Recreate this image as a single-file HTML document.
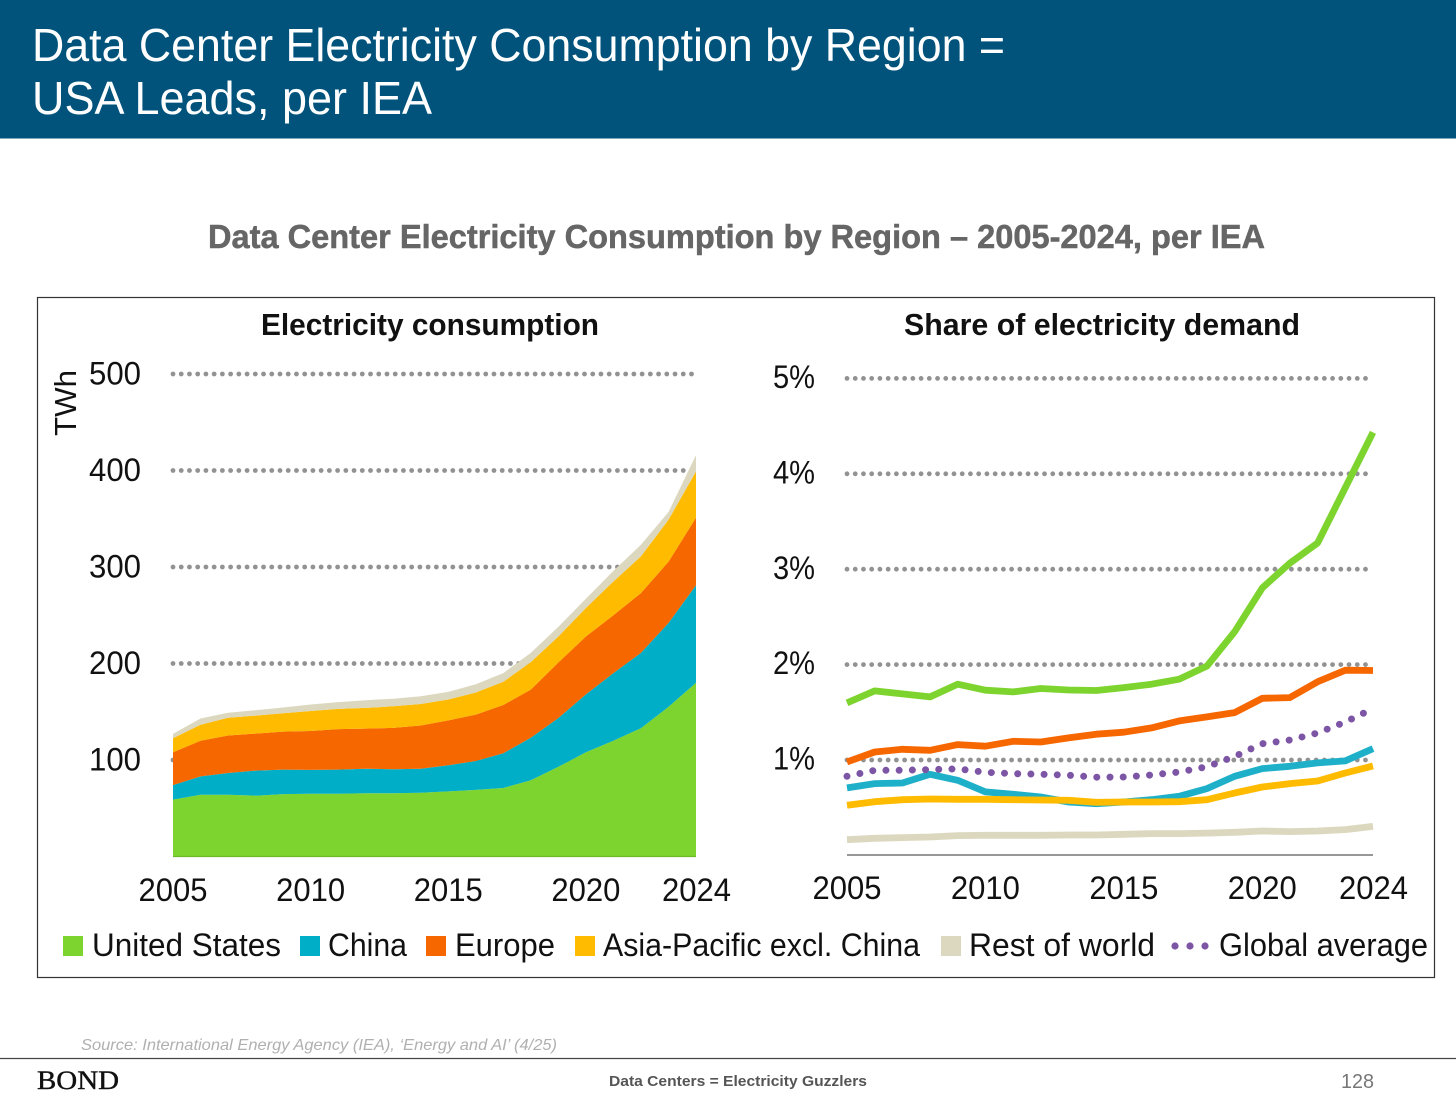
<!DOCTYPE html>
<html lang="en">
<head>
<meta charset="utf-8">
<title>Data Center Electricity Consumption by Region</title>
<style>
html,body{margin:0;padding:0;background:#fff;width:1456px;height:1100px;overflow:hidden}
svg{display:block}
text{font-family:"Liberation Sans",sans-serif}
.lab{fill:#111;font-size:32px}
</style>
</head>
<body>
<svg id="slide" xmlns="http://www.w3.org/2000/svg" width="1456" height="1100" viewBox="0 0 1456 1100">
  <rect x="0" y="0" width="1456" height="1100" fill="#fff"/>
  <rect x="0" y="0" width="1456" height="138.5" fill="#01537c"/>
  <text x="32" y="61" font-size="46" fill="#fff" textLength="973" lengthAdjust="spacingAndGlyphs">Data Center Electricity Consumption by Region =</text>
  <text x="32" y="114" font-size="46" fill="#fff" textLength="400" lengthAdjust="spacingAndGlyphs">USA Leads, per IEA</text>
  <text x="208" y="248" font-size="33" font-weight="700" fill="#666" stroke="#666" stroke-width="0.5" textLength="1057" lengthAdjust="spacingAndGlyphs">Data Center Electricity Consumption by Region – 2005-2024, per IEA</text>
  <rect x="37.5" y="297.5" width="1397" height="680" fill="#fff" stroke="#333" stroke-width="1.2"/>

  <text x="261" y="335" font-size="31" font-weight="700" fill="#111" textLength="338" lengthAdjust="spacingAndGlyphs">Electricity consumption</text>
  <text x="904" y="335" font-size="31" font-weight="700" fill="#111" textLength="396" lengthAdjust="spacingAndGlyphs">Share of electricity demand</text>
  <text transform="translate(76 436) rotate(-90)" font-size="31" fill="#111" textLength="66" lengthAdjust="spacingAndGlyphs">TWh</text>

  <g id="left-chart"></g>
  <g id="right-chart"></g>

  <g id="legend">
    <rect x="63" y="936" width="20" height="20" fill="#7ed42f"/>
    <text class="lab" x="92" y="956" textLength="189" lengthAdjust="spacingAndGlyphs">United States</text>
    <rect x="300" y="936" width="20" height="20" fill="#00aec7"/>
    <text class="lab" x="328" y="956" textLength="79" lengthAdjust="spacingAndGlyphs">China</text>
    <rect x="426" y="936" width="20" height="20" fill="#f76700"/>
    <text class="lab" x="455" y="956" textLength="100" lengthAdjust="spacingAndGlyphs">Europe</text>
    <rect x="575" y="936" width="20" height="20" fill="#ffbb00"/>
    <text class="lab" x="603" y="956" textLength="317" lengthAdjust="spacingAndGlyphs">Asia-Pacific excl. China</text>
    <rect x="941" y="936" width="20" height="20" fill="#dcd8bf"/>
    <text class="lab" x="969" y="956" textLength="186" lengthAdjust="spacingAndGlyphs">Rest of world</text>
    <circle cx="1175" cy="946" r="3.6" fill="#7d55a5"/>
    <circle cx="1190" cy="946" r="3.6" fill="#7d55a5"/>
    <circle cx="1205" cy="946" r="3.6" fill="#7d55a5"/>
    <text class="lab" x="1219" y="956" textLength="209" lengthAdjust="spacingAndGlyphs">Global average</text>
  </g>

  <text x="81" y="1050" font-size="16" font-style="italic" fill="#b0b0b0" textLength="476" lengthAdjust="spacingAndGlyphs">Source: International Energy Agency (IEA), ‘Energy and AI’ (4/25)</text>
  <line x1="0" y1="1058.5" x2="1456" y2="1058.5" stroke="#444" stroke-width="1.2"/>
  <text x="37" y="1089" font-size="26" fill="#111" stroke="#111" stroke-width="0.4" style="font-family:'Liberation Serif',serif" textLength="82" lengthAdjust="spacingAndGlyphs">BOND</text>
  <text x="609" y="1086" font-size="14.5" font-weight="700" fill="#555" textLength="258" lengthAdjust="spacingAndGlyphs">Data Centers = Electricity Guzzlers</text>
  <text x="1341" y="1088" font-size="20" fill="#777" textLength="33" lengthAdjust="spacingAndGlyphs">128</text>
</svg>
<script>
// Shared categories
const years = [2005,2006,2007,2008,2009,2010,2011,2012,2013,2014,2015,2016,2017,2018,2019,2020,2021,2022,2023,2024];
const xTickYears = [2005,2010,2015,2020,2024];

// Left chart: TWh by region (stacked)
const twhTicks = [100,200,300,400,500];
const twhUnitedStates = [59,64,64,63,64.7,65,65,65.5,65.5,66,67.5,69,71,79,93,108,120,133,155,180];
const twhChina = [15,19,22.5,26,25.3,24.7,25,25.5,25,25,27,30,36,44,50.5,60,70,78,87,101];
const twhEurope = [34,37,38.9,38.4,39.4,40.3,42,41.5,42.8,44.7,46.5,48,50,50,57.5,60,60,62,63.5,70];
const twhAsiaPacific = [14.6,16.5,18.3,18.6,19,20.8,21,21.5,22.3,22.3,21.7,23,24,28.5,27,29.5,35,38,43.5,48];
const twhRestOfWorld = [4.4,6.5,5.3,5.6,6,6.7,7,8,7.9,8,7.9,8.6,9,9.5,10,9.5,11,12,8,17];

// Right chart: share of electricity demand (%)
const shareTicks = [1,2,3,4,5];
const shareUnitedStates = [1.594,1.72,1.689,1.657,1.79,1.727,1.71,1.745,1.73,1.724,1.755,1.79,1.843,1.98,2.34,2.8,3.06,3.27,3.85,4.43];
const shareChina = [0.703,0.748,0.755,0.846,0.783,0.661,0.636,0.608,0.556,0.538,0.556,0.58,0.615,0.696,0.825,0.906,0.93,0.965,0.986,1.115];
const shareEurope = [0.976,1.08,1.108,1.098,1.157,1.14,1.192,1.185,1.227,1.266,1.287,1.332,1.406,1.448,1.493,1.643,1.65,1.815,1.937,1.934];
const shareAsiaPacific = [0.521,0.559,0.58,0.587,0.584,0.584,0.58,0.577,0.573,0.552,0.556,0.556,0.559,0.58,0.65,0.713,0.748,0.776,0.86,0.934];
const shareRestOfWorld = [0.16,0.175,0.182,0.189,0.203,0.206,0.206,0.206,0.21,0.21,0.217,0.224,0.224,0.23,0.238,0.252,0.245,0.252,0.266,0.3];
const shareGlobalAverage = [0.825,0.888,0.888,0.895,0.902,0.867,0.853,0.846,0.836,0.815,0.818,0.839,0.87,0.925,1.032,1.167,1.205,1.279,1.394,1.535];

const NS = 'http://www.w3.org/2000/svg';
function mk(parent, tag, attrs, txt) {
  const el = document.createElementNS(NS, tag);
  for (const k in attrs) el.setAttribute(k, attrs[k]);
  if (txt !== undefined) el.textContent = txt;
  parent.appendChild(el);
  return el;
}

// Axis functions
const lx = y => 173 + (y - 2005) * (696 - 173) / 19;
const ly = v => 856.5 - v * 0.965;
const rx = y => 847 + (y - 2005) * (1373 - 847) / 19;
const ry = v => 855 - v * 95.4;

// ---------- Left chart ----------
const left = document.getElementById('left-chart');
twhTicks.forEach(t => {
  const g = mk(left, 'line', {x1: 173, x2: 695, y1: ly(t), y2: ly(t), stroke: '#929292', 'stroke-width': 4.8, 'stroke-linecap': 'round', 'stroke-dasharray': '0 8.23'});
  
  
  const lab = mk(left, 'text', {class: 'lab', x: 89, y: ly(t) + 10.5, textLength: 52, lengthAdjust: 'spacingAndGlyphs'}, String(t));
  
  
});

const stackSeries = [
  {key: 'united-states', vals: twhUnitedStates, color: '#7ed42f'},
  {key: 'china', vals: twhChina, color: '#00aec7'},
  {key: 'europe', vals: twhEurope, color: '#f76700'},
  {key: 'asia-pacific', vals: twhAsiaPacific, color: '#ffbb00'},
  {key: 'rest-of-world', vals: twhRestOfWorld, color: '#dcd8bf'}
];
let base = years.map(() => 0);
stackSeries.forEach(s => {
  const top = base.map((b, i) => b + s.vals[i]);
  const upper = years.map((y, i) => lx(y).toFixed(1) + ',' + ly(top[i]).toFixed(1));
  const lower = years.map((y, i) => lx(y).toFixed(1) + ',' + ly(base[i]).toFixed(1)).reverse();
  const p = mk(left, 'polygon', {points: upper.concat(lower).join(' '), fill: s.color});
  
  
  base = top;
});

const lBase = mk(left, 'line', {x1: lx(2005), x2: lx(2024), y1: ly(0), y2: ly(0), stroke: '#6fb82a', 'stroke-width': 1.2});



xTickYears.forEach(y => {
  const lab = mk(left, 'text', {class: 'lab', x: lx(y) + (y === 2024 ? 0.5 : 0), y: 901, 'text-anchor': 'middle', textLength: 69, lengthAdjust: 'spacingAndGlyphs'}, String(y));
  
  
});

// ---------- Right chart ----------
const right = document.getElementById('right-chart');
shareTicks.forEach(t => {
  const g = mk(right, 'line', {x1: 847, x2: 1370, y1: ry(t) + 0.4, y2: ry(t) + 0.4, stroke: '#929292', 'stroke-width': 4.8, 'stroke-linecap': 'round', 'stroke-dasharray': '0 8.23'});
  
  
  const lab = mk(right, 'text', {class: 'lab', x: 773, y: ry(t) + 10, textLength: 42, lengthAdjust: 'spacingAndGlyphs'}, t + '%');
  
  
});

const rAxis = mk(right, 'line', {x1: rx(2005), x2: rx(2024), y1: 855, y2: 855, stroke: '#777', 'stroke-width': 1.4});



const lineSeries = [
  {key: 'rest-of-world', vals: shareRestOfWorld, color: '#dcd8bf'},
  {key: 'china', vals: shareChina, color: '#1fb0c9'},
  {key: 'asia-pacific', vals: shareAsiaPacific, color: '#ffbb00'},
  {key: 'europe', vals: shareEurope, color: '#f76700'},
  {key: 'united-states', vals: shareUnitedStates, color: '#7ed42f'}
];
lineSeries.forEach(s => {
  const pts = years.map((y, i) => rx(y).toFixed(1) + ',' + ry(s.vals[i]).toFixed(1)).join(' ');
  const l = mk(right, 'polyline', {points: pts, fill: 'none', stroke: s.color, 'stroke-width': 6.8, 'stroke-linejoin': 'round'});
  
  
});
const avgPts = years.map((y, i) => rx(y).toFixed(1) + ',' + ry(shareGlobalAverage[i]).toFixed(1)).join(' ');
const avg = mk(right, 'polyline', {points: avgPts, fill: 'none', stroke: '#7d55a5', 'stroke-width': 7, 'stroke-linecap': 'round', 'stroke-dasharray': '0 13.2'});



xTickYears.forEach(y => {
  const lab = mk(right, 'text', {class: 'lab', x: rx(y) + (y === 2024 ? 0.5 : 0), y: 899, 'text-anchor': 'middle', textLength: 69, lengthAdjust: 'spacingAndGlyphs'}, String(y));
  
  
});
</script>
</body>
</html>
